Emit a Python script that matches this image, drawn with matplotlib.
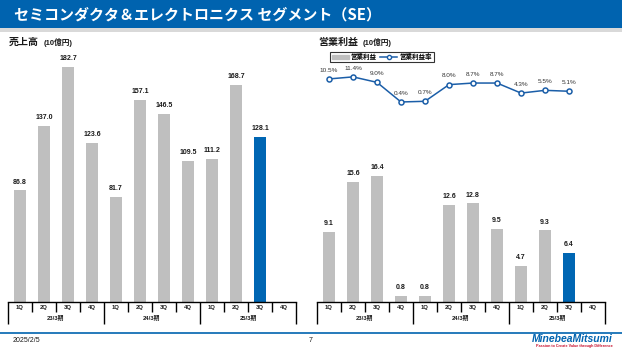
import matplotlib
matplotlib.use("Agg")
import matplotlib.pyplot as plt
from matplotlib.patches import Rectangle, Patch
from matplotlib.lines import Line2D
from matplotlib.transforms import blended_transform_factory

plt.rcParams['font.family'] = ['Liberation Sans', 'Noto Sans CJK JP', 'DejaVu Sans']

quarters = ["1Q", "2Q", "3Q", "4Q"] * 3
fiscal_years = ["23/3期", "24/3期", "25/3期"]
sales = [86.8, 137.0, 182.7, 123.6, 81.7, 157.1, 146.5, 109.5, 111.2, 168.7, 128.1]
op_income = [9.1, 15.6, 16.4, 0.8, 0.8, 12.6, 12.8, 9.5, 4.7, 9.3, 6.4]
op_margin = [10.5, 11.4, 9.0, 0.4, 0.7, 8.0, 8.7, 8.7, 4.3, 5.5, 5.1]

GRAY = "#BFBFBF"
BLUE = "#0066B3"
LINE_BLUE = "#1B5EA8"
TXT = "#1A1A1A"

W, H = 622, 350
fig = plt.figure(figsize=(W / 100, H / 100), dpi=100)

def rect(x0, y0, x1, y1):
    return [x0 / W, 1 - y1 / H, (x1 - x0) / W, (y1 - y0) / H]

# Header
hdr = fig.add_axes([0, 0, 1, 1], zorder=-5)
hdr.set_xlim(0, W); hdr.set_ylim(H, 0); hdr.axis("off")
hdr.add_patch(Rectangle((0, 0), W, 28, color="#0063AF", lw=0))
hdr.add_patch(Rectangle((0, 28), W, 4, color="#D9D9D9", lw=0))
hdr.text(14, 14.5, "セミコンダクタ＆エレクトロニクス セグメント（SE）", color="white",
         fontsize=10.8, fontweight="bold", va="center", ha="left",
         family=["Noto Sans CJK JP"])
hdr.text(8.5, 42, "売上高", fontsize=7.2, fontweight="bold", va="center", ha="left", color=TXT,
         family=["Noto Sans CJK JP"])
hdr.text(44, 42.5, "(10億円)", fontsize=5.5, fontweight="bold", va="center", ha="left", color=TXT)
hdr.text(318, 42, "営業利益", fontsize=7.2, fontweight="bold", va="center", ha="left", color=TXT,
         family=["Noto Sans CJK JP"])
hdr.text(363, 42.5, "(10億円)", fontsize=5.5, fontweight="bold", va="center", ha="left", color=TXT)
# footer
hdr.plot([0, W], [333, 333], color="#0063AF", lw=1.2)
hdr.text(13, 341, "2025/2/5", fontsize=5, va="center", ha="left", color=TXT)
hdr.text(311, 341, "7", fontsize=5, va="center", ha="center", color=TXT)
hdr.text(613, 339.5, "MinebeaMitsumi", fontsize=7.5, fontweight="bold", style="italic",
         va="center", ha="right", color="#0063AF")
hdr.text(613, 346, "Passion to Create Value through Difference", fontsize=2.7,
         fontweight="bold", va="center", ha="right", color="#C8102E")


def category_axis(ax):
    n = len(quarters)
    ax.set_xlim(-0.5, n - 0.5)
    for s in ["top", "right", "left"]:
        ax.spines[s].set_visible(False)
    ax.spines["bottom"].set_linewidth(1.0)
    ax.set_yticks([])
    ax.set_xticks([-0.5 + 4 * i for i in range(len(fiscal_years) + 1)])
    ax.set_xticks([i + 0.5 for i in range(n - 1) if (i + 1) % 4 != 0], minor=True)
    ax.tick_params(axis="x", which="major", length=15.5, width=1.0, labelbottom=False)
    ax.tick_params(axis="x", which="minor", length=7.5, width=1.0)
    tr = blended_transform_factory(ax.transData, ax.transAxes)
    for i, q in enumerate(quarters):
        ax.annotate(q, (i, 0), xycoords=tr, xytext=(0, -3.8), textcoords="offset points",
                    ha="center", va="center", fontsize=4.2, fontweight="bold", color=TXT)
    for g, fy in enumerate(fiscal_years):
        ax.annotate(fy, (g * 4 + 1.5, 0), xycoords=tr, xytext=(0, -11.5),
                    textcoords="offset points", ha="center", va="center",
                    fontsize=4.2, fontweight="bold", color=TXT)


# Left chart: sales
ax1 = fig.add_axes(rect(8, 40, 296, 302))
ax1.patch.set_alpha(0)
colors = [GRAY] * (len(sales) - 1) + [BLUE]
b1 = ax1.bar(range(len(sales)), sales, width=0.54, color=colors)
ax1.set_ylim(0, 262 / 1.286)
for x, v in enumerate(sales):
    ax1.annotate(f"{v:.1f}", (x, v), xytext=(0, 3.5), textcoords="offset points",
                 ha="center", va="bottom", fontsize=5, fontweight="bold", color=TXT)
category_axis(ax1)

# Right chart: operating income
ax2 = fig.add_axes(rect(317, 160, 605, 302))
ax2.patch.set_alpha(0)
colors2 = [GRAY] * (len(op_income) - 1) + [BLUE]
b2 = ax2.bar(range(len(op_income)), op_income, width=0.54, color=colors2)
ax2.set_ylim(0, 142 / 7.7)
for x, v in enumerate(op_income):
    ax2.annotate(f"{v:.1f}", (x, v), xytext=(0, 3.5), textcoords="offset points",
                 ha="center", va="bottom", fontsize=5, fontweight="bold", color=TXT)
category_axis(ax2)

# Margin line
ax3 = fig.add_axes(rect(317, 60, 605, 120))
ax3.patch.set_alpha(0)
ax3.set_xlim(-0.5, len(quarters) - 0.5)
ax3.set_ylim(-7.5, 18.8)
ax3.axis("off")
ax3.plot(range(len(op_margin)), op_margin, color=LINE_BLUE, lw=1.1, marker="o",
         markersize=3.6, markerfacecolor="white", markeredgecolor=LINE_BLUE,
         markeredgewidth=1.1)
for x, v in enumerate(op_margin):
    ax3.annotate(f"{v:.1f}%", (x, v), xytext=(0, 4.5), textcoords="offset points",
                 ha="center", va="bottom", fontsize=4.6, color="#333333")

handles = [Patch(color=GRAY, label="営業利益"),
           Line2D([], [], color=LINE_BLUE, lw=1.1, marker="o", markersize=3,
                  markerfacecolor="white", markeredgecolor=LINE_BLUE, label="営業利益率")]
leg = fig.legend(handles=handles, loc="upper left", bbox_to_anchor=(330 / W, 1 - 51.5 / H),
                 ncol=2, frameon=True, fancybox=False, edgecolor="black",
                 handlelength=2.6, handleheight=0.5, handletextpad=0.35, columnspacing=0.5,
                 borderpad=0.25, borderaxespad=0,
                 prop={"family": ["Noto Sans CJK JP"], "size": 4.7, "weight": "bold"})
leg.get_frame().set_linewidth(0.8)

fig.savefig("out.png", dpi=100)
